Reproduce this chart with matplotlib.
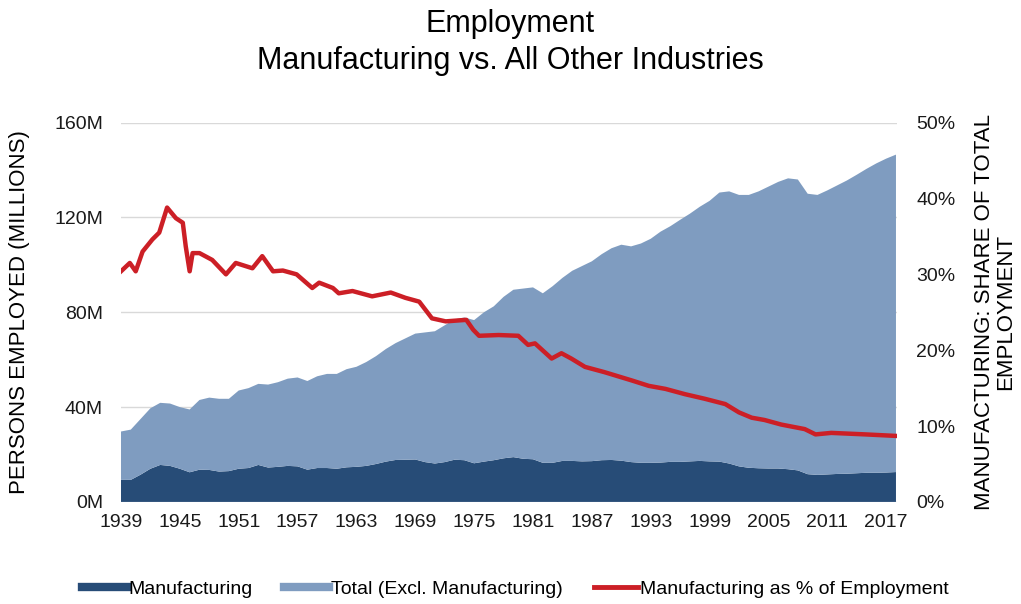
import numpy as np
import matplotlib
matplotlib.use("Agg")
import matplotlib.pyplot as plt
from matplotlib.lines import Line2D

plt.rcParams['font.family'] = ['Liberation Sans', 'DejaVu Sans']

# annual employment, millions
years = list(range(1939, 2019))
total_all = [29.7, 30.5, 35, 39.5, 41.8, 41.5, 40, 39, 43, 44,
             43.5, 43.5, 47, 48, 49.8, 49.5, 50.5, 52, 52.5, 51,
             53, 54, 54, 56, 57, 59, 61.5, 64.5, 67, 69,
             71, 71.5, 72, 74.5, 77, 77.8, 76.7, 80, 82.5, 86.5,
             89.5, 90, 90.5, 88, 91, 94.5, 97.5, 99.5, 101.5, 104.5,
             107, 108.5, 107.8, 109, 111, 114, 116.3, 119, 121.6, 124.5,
             127, 130.5, 131, 129.5, 129.5, 131, 133, 135, 136.5, 136,
             130, 129.5, 131.4, 133.5, 135.6, 138, 140.5, 142.8, 144.8, 146.5]
manufacturing = [9.3, 9.3, 11.5, 14, 15.6, 15.2, 14, 12.5, 13.6, 13.5,
                 12.8, 13, 14, 14.3, 15.6, 14.5, 14.8, 15.2, 15, 13.6,
                 14.3, 14.3, 14, 14.6, 14.8, 15.2, 16, 17, 17.7, 17.8,
                 17.9, 16.8, 16.2, 16.8, 17.8, 17.6, 16.3, 17, 17.6, 18.4,
                 18.9, 18.2, 18, 16.5, 16.5, 17.3, 17.3, 17.1, 17.2, 17.6,
                 17.7, 17.4, 16.8, 16.5, 16.5, 16.6, 16.9, 16.9, 17.1, 17.3,
                 17.1, 17, 16.2, 15, 14.4, 14.2, 14.1, 14.1, 13.8, 13.3,
                 11.7, 11.4, 11.6, 11.8, 11.9, 12.1, 12.3, 12.3, 12.4, 12.6]

# manufacturing share of total employment, %
share_years = [1939, 1939.9, 1940.5, 1941.2, 1942.2, 1942.9, 1943.7, 1944.6, 1945.3,
               1945.6, 1946, 1946.3, 1947, 1948.3, 1949.7, 1950.7, 1952.4, 1953.4,
               1954.5, 1955.5, 1956.9, 1958.5, 1959.2, 1960.6, 1961.2, 1962.6, 1964.6,
               1966.5, 1968, 1969.4, 1970.7, 1972.1, 1974.2, 1974.9, 1975.5, 1977.5,
               1979.5, 1980.5, 1981.2, 1982.9, 1983.9, 1984.9, 1986.3, 1988.3, 1991.1,
               1992.8, 1994.5, 1996.5, 1998.5, 2000.6, 2002, 2003.3, 2004.6, 2006.3,
               2008.7, 2009.8, 2011.4, 2014.9, 2018]
share_pct = [30.4, 31.5, 30.4, 33, 34.6, 35.5, 38.8, 37.4, 36.8,
             33.7, 30.4, 32.8, 32.8, 31.9, 30, 31.5, 30.8, 32.4,
             30.4, 30.5, 30, 28.2, 28.9, 28.2, 27.5, 27.8, 27.1,
             27.6, 26.9, 26.4, 24.2, 23.8, 24, 22.7, 21.9, 22,
             21.9, 20.7, 20.9, 18.9, 19.6, 18.9, 17.8, 17.1, 16,
             15.3, 14.9, 14.2, 13.6, 12.9, 11.8, 11.1, 10.8, 10.2,
             9.6, 8.9, 9.1, 8.9, 8.7]

left_ticks = [0, 40, 80, 120, 160]
right_ticks = [0, 10, 20, 30, 40, 50]
xtick_years = list(range(1939, 2018, 6))

dark = '#274C77'
light = '#7F9CC0'
red = '#CC1F26'

other = np.array(total_all) - np.array(manufacturing)

fig = plt.figure(figsize=(10.21, 6.04), dpi=100)
ax = fig.add_axes([0.1185, 0.169, 0.760, 0.628])

ax.stackplot(years, manufacturing, other, colors=[dark, light], linewidth=0)
ax.set_xlim(1939, 2018.1)
ax.set_ylim(0, 160)
ax.set_yticks(left_ticks)
ax.set_yticklabels([f'{v}M' for v in left_ticks])
ax.set_xticks(xtick_years)
ax.set_xticklabels([str(y) for y in xtick_years])
ax.grid(axis='y', color='#d9d9d9', lw=1)
ax.set_axisbelow(True)
for s in ax.spines.values():
    s.set_visible(False)
ax.tick_params(length=0, labelsize=14, colors='#1a1a1a')
ax.tick_params(axis='y', pad=13)
ax.tick_params(axis='x', pad=9)
ax.set_ylabel('PERSONS EMPLOYED (MILLIONS)', fontsize=16, labelpad=17)

ax2 = ax.twinx()
ax2.plot(share_years, share_pct, color=red, lw=3.2, solid_joinstyle='round')
ax2.set_ylim(0, 50)
ax2.set_yticks(right_ticks)
ax2.set_yticklabels([f'{v}%' for v in right_ticks])
for s in ax2.spines.values():
    s.set_visible(False)
ax2.tick_params(length=0, labelsize=14, colors='#1a1a1a', pad=14)
ax2.set_ylabel('MANUFACTURING: SHARE OF TOTAL\nEMPLOYMENT', fontsize=16,
               labelpad=13, linespacing=1.0)

fig.text(0.5, 0.985, 'Employment\nManufacturing vs. All Other Industries',
         ha='center', va='top', fontsize=22, linespacing=1.28)

handles = [Line2D([], [], color=dark, lw=6),
           Line2D([], [], color=light, lw=6),
           Line2D([], [], color=red, lw=3.5)]
labels = ['Manufacturing', 'Total (Excl. Manufacturing)', 'Manufacturing as % of Employment']
fig.legend(handles, labels, loc='center', bbox_to_anchor=(0.505, 0.025), ncol=3,
           frameon=False, fontsize=14, handlelength=2.3, handletextpad=0.1,
           columnspacing=1.6)

fig.savefig('out.png', dpi=100)
